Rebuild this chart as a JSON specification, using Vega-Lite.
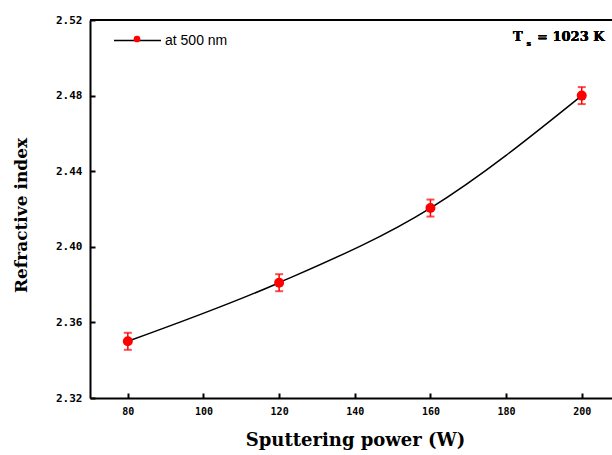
{
  "$schema": "https://vega.github.io/schema/vega-lite/v6.json",
  "autosize": {"type": "none"},
  "padding": {"left": 90, "top": 20, "right": 0, "bottom": 57},
  "width": 522,
  "height": 378,
  "background": "white",
  "config": {"view": {"stroke": null}},
  "data": {"values": [
    {"power": 80, "n": 2.350, "err": 0.0045, "series": "at 500 nm"},
    {"power": 120, "n": 2.381, "err": 0.0045, "series": "at 500 nm"},
    {"power": 160, "n": 2.4205, "err": 0.0045, "series": "at 500 nm"},
    {"power": 200, "n": 2.480, "err": 0.0045, "series": "at 500 nm"}
  ]},
  "layer": [
    {
      "mark": {"type": "rule", "strokeWidth": 2, "color": "black"},
      "encoding": {"y": {"datum": 2.52, "type": "quantitative", "title": "Refractive index", "scale": {"domain": [2.32, 2.52], "nice": false, "zero": false}}}
    },
    {
      "mark": {"type": "line", "interpolate": "monotone", "strokeWidth": 1.5},
      "encoding": {
        "x": {"field": "power", "type": "quantitative", "title": "Sputtering power (W)",
          "scale": {"domain": [70, 208], "nice": false, "zero": false},
          "axis": {"values": [80, 100, 120, 140, 160, 180, 200], "grid": false,
            "domainWidth": 2, "domainColor": "black", "tickColor": "black", "tickWidth": 2, "tickSize": -5,
            "labelFont": "DejaVu Sans Mono", "labelFontWeight": "bold", "labelFontSize": 10, "labelColor": "black", "labelPadding": 13,
            "title": "Sputtering power (W)", "titleFont": "DejaVu Serif", "titleFontWeight": "bold", "titleFontSize": 18, "titleColor": "black",
            "titleX": 265, "titleY": 42, "titleBaseline": "middle", "titleAnchor": "middle"}},
        "y": {"field": "n", "type": "quantitative", "title": "Refractive index",
          "scale": {"domain": [2.32, 2.52], "nice": false, "zero": false},
          "axis": {"values": [2.32, 2.36, 2.40, 2.44, 2.48, 2.52], "format": ".2f", "grid": false,
            "domainWidth": 2, "domainColor": "black", "tickColor": "black", "tickWidth": 2, "tickSize": -5,
            "labelFont": "DejaVu Sans Mono", "labelFontWeight": "bold", "labelFontSize": 11, "labelColor": "black", "labelPadding": 13,
            "title": "Refractive index", "titleFont": "DejaVu Serif", "titleFontWeight": "bold", "titleFontSize": 17, "titleColor": "black",
            "titleX": -69, "titleY": 195, "titleBaseline": "middle", "titleAngle": -90, "titleAnchor": "middle"}},
        "stroke": {"field": "series", "type": "nominal", "scale": {"range": ["black"]},
          "legend": {"orient": "none", "legendX": 23, "legendY": -4, "padding": 0, "title": null,
            "symbolType": "stroke", "symbolSize": 2209, "symbolStrokeWidth": 1.5, "symbolStrokeColor": "black",
            "labelFont": "Liberation Sans", "labelFontSize": 14, "labelColor": "black", "labelOffset": 3}}
      }
    },
    {
      "mark": {"type": "errorbar", "ticks": {"size": 8, "thickness": 2, "color": "red"}, "rule": {"color": "red", "strokeWidth": 1.5}},
      "encoding": {
        "x": {"field": "power", "type": "quantitative", "title": "Sputtering power (W)"},
        "y": {"field": "n", "type": "quantitative", "title": "Refractive index"},
        "yError": {"field": "err"}
      }
    },
    {
      "mark": {"type": "point", "filled": true, "size": 100, "opacity": 1},
      "encoding": {
        "x": {"field": "power", "type": "quantitative", "title": "Sputtering power (W)"},
        "y": {"field": "n", "type": "quantitative", "title": "Refractive index"},
        "fill": {"field": "series", "type": "nominal", "scale": {"range": ["red"]},
          "legend": {"orient": "none", "legendX": 40, "legendY": 12, "padding": 0, "title": null,
            "symbolType": "circle", "symbolSize": 45, "symbolStrokeWidth": 0,
            "labelExpr": "''", "labelFontSize": 14}}
      }
    },
    {
      "mark": {"type": "text", "text": "T", "font": "DejaVu Serif", "fontWeight": "bold", "fontSize": 13, "align": "left", "baseline": "middle", "color": "black"},
      "encoding": {"x": {"datum": 181.8, "type": "quantitative"}, "y": {"datum": 2.511, "type": "quantitative"}}
    },
    {
      "mark": {"type": "text", "text": "s", "font": "DejaVu Serif", "fontWeight": "bold", "fontSize": 8, "align": "left", "baseline": "middle", "color": "black"},
      "encoding": {"x": {"datum": 185.4, "type": "quantitative"}, "y": {"datum": 2.5075, "type": "quantitative"}}
    },
    {
      "mark": {"type": "text", "text": "= 1023 K", "font": "DejaVu Serif", "fontWeight": "bold", "fontSize": 13, "align": "left", "baseline": "middle", "color": "black"},
      "encoding": {"x": {"datum": 188.2, "type": "quantitative"}, "y": {"datum": 2.511, "type": "quantitative"}}
    }
  ]
}
